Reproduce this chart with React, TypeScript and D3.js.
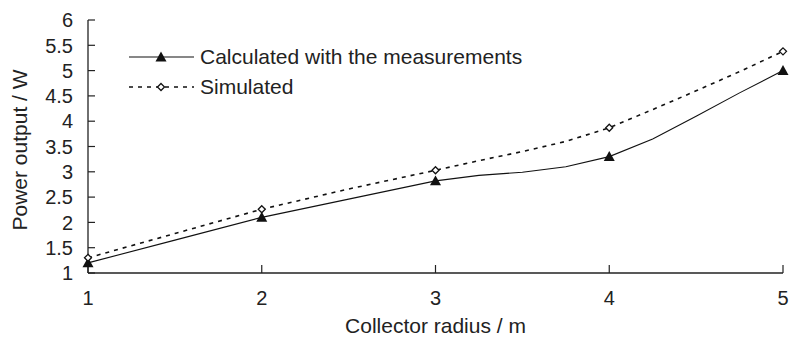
import React from "react";
import * as d3 from "d3";

const xTicks = [1, 2, 3, 4, 5];
const yTicks = [1, 1.5, 2, 2.5, 3, 3.5, 4, 4.5, 5, 5.5, 6];
const yTickLabels = ["1", "1.5", "2", "2.5", "3", "3.5", "4", "4.5", "5", "5.5", "6"];

// Measured line (polyline through intermediate points), markers at integer radii
const calcX = [1, 1.5, 2, 2.5, 3, 3.25, 3.5, 3.75, 4, 4.25, 4.5, 4.75, 5];
const calcY = [1.2, 1.65, 2.1, 2.46, 2.82, 2.93, 2.99, 3.1, 3.3, 3.65, 4.1, 4.56, 5.0];
const simX = [1, 1.5, 2, 2.5, 3, 3.25, 3.5, 3.75, 4, 4.25, 4.5, 4.75, 5];
const simY = [1.3, 1.78, 2.26, 2.66, 3.03, 3.22, 3.4, 3.6, 3.87, 4.23, 4.6, 4.98, 5.38];
const markerX = [1, 2, 3, 4, 5];
const calcMarkers = [1.2, 2.1, 2.82, 3.3, 5.0];
const simMarkers = [1.3, 2.26, 3.03, 3.87, 5.38];

const legendLabels = ["Calculated with the measurements", "Simulated"];
const xTitle = "Collector radius / m";
const yTitle = "Power output / W";

export default function App() {
  const W = 790, H = 339;
  const left = 88, right = 783, top = 20, bottom = 273;
  const x = d3.scaleLinear().domain([1, 5]).range([left, right]);
  const y = d3.scaleLinear().domain([1, 6]).range([bottom, top]);
  const line = d3.line<[number, number]>().x(d => x(d[0])).y(d => y(d[1]));
  const calcPts = calcX.map((v, i) => [v, calcY[i]] as [number, number]);
  const simPts = simX.map((v, i) => [v, simY[i]] as [number, number]);
  const font = "'Liberation Sans', Arial, Helvetica, sans-serif";
  const textColor = "#222";
  const tri = (cx: number, cy: number, s = 5.5) =>
    `M${cx},${cy - s} L${cx + s},${cy + s * 0.8} L${cx - s},${cy + s * 0.8} Z`;
  const dia = (cx: number, cy: number, s = 3.5) =>
    `M${cx},${cy - s} L${cx + s},${cy} L${cx},${cy + s} L${cx - s},${cy} Z`;

  return (
    <svg width={W} height={H} style={{ position: "absolute", left: 0, top: 0, background: "#fff" }}
      fontFamily={font}>
      {/* axes */}
      <line x1={left} x2={left} y1={top} y2={bottom} stroke="#222" strokeWidth={1.3} />
      <line x1={left} x2={right} y1={bottom} y2={bottom} stroke="#222" strokeWidth={1.3} />
      {yTicks.map((t, i) => (
        <g key={"y" + i}>
          <line x1={left} x2={left + 7} y1={y(t)} y2={y(t)} stroke="#222" strokeWidth={1.2} />
          <text x={73} y={y(t)} dy="0.36em" textAnchor="end" fontSize={20} fill={textColor}>
            {yTickLabels[i]}
          </text>
        </g>
      ))}
      {xTicks.map((t, i) => (
        <g key={"x" + i}>
          <line x1={x(t)} x2={x(t)} y1={bottom} y2={bottom - 8} stroke="#222" strokeWidth={1.2} />
          <text x={x(t)} y={305} textAnchor="middle" fontSize={20} fill={textColor}>
            {String(t)}
          </text>
        </g>
      ))}
      <text x={(left + right) / 2} y={333} textAnchor="middle" fontSize={21} fill={textColor}>
        {xTitle}
      </text>
      <text transform={`translate(27,150) rotate(-90)`} textAnchor="middle"
        fontSize={21} fill={textColor}>
        {yTitle}
      </text>

      {/* series */}
      <path d={line(simPts) || ""} fill="none" stroke="#111" strokeWidth={1.6} strokeDasharray="4,5" />
      <path d={line(calcPts) || ""} fill="none" stroke="#111" strokeWidth={1.1} />
      {markerX.map((mx, i) => (
        <path key={"c" + i} d={tri(x(mx), y(calcMarkers[i]))} fill="#111" />
      ))}
      {markerX.map((mx, i) => (
        <path key={"s" + i} d={dia(x(mx), y(simMarkers[i]))} fill="#fff" stroke="#111" strokeWidth={1.3} />
      ))}

      {/* legend */}
      <line x1={129} x2={194} y1={57} y2={57} stroke="#111" strokeWidth={1.1} />
      <path d={tri(161, 57)} fill="#111" />
      <text x={200} y={64} fontSize={21} fill={textColor}>{legendLabels[0]}</text>
      <line x1={129} x2={194} y1={87} y2={87} stroke="#111" strokeWidth={1.6} strokeDasharray="4,5" />
      <path d={dia(161, 87)} fill="#fff" stroke="#111" strokeWidth={1.3} />
      <text x={200} y={94} fontSize={21} fill={textColor}>{legendLabels[1]}</text>
    </svg>
  );
}
